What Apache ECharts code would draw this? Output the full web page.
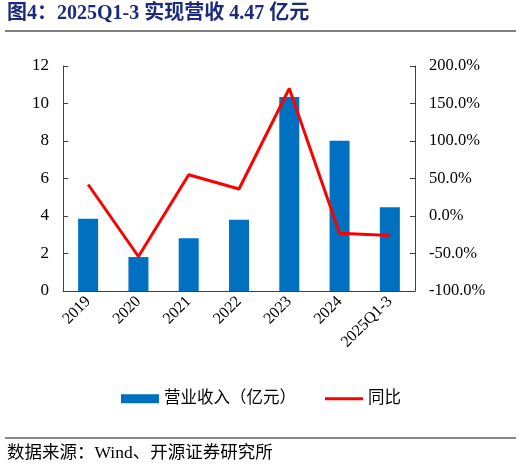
<!DOCTYPE html>
<html>
<head>
<meta charset="utf-8">
<script src="https://cdn.jsdelivr.net/npm/echarts@6/dist/echarts.min.js"></script>
<style>
  html, body { margin: 0; padding: 0; background: #fff; }
  #main { width: 522px; height: 467px; }
</style>
</head>
<body>
<div id="main"></div>
<script>
var categories = ['2019', '2020', '2021', '2022', '2023', '2024', '2025Q1-3'];
var revenue = [3.86, 1.81, 2.81, 3.80, 10.35, 8.02, 4.47];
var yoy = [42, -54, 55, 36, 170, -23, -26];
var leftTicks = { min: 0, max: 12, interval: 2 };
var rightTicks = { min: -100, max: 200, interval: 50 };

var serif = '"Liberation Serif", "Noto Sans CJK SC", serif';
var axisColor = '#404040';

var chart = echarts.init(document.getElementById('main'));

var option = {
    animation: false,
    backgroundColor: '#fff',
    textStyle: { fontFamily: serif },
    graphic: [
        {
            type: 'text', left: 7, top: 4,
            style: {
                text: '图4：2025Q1-3 实现营收 4.47 亿元',
                fill: '#1b2a7c', fontSize: 20, fontWeight: 'bold', fontFamily: serif
            }
        },
        {
            type: 'line', shape: { x1: 5, y1: 31, x2: 516, y2: 31 },
            style: { stroke: '#000', lineWidth: 1.2 }
        },
        {
            type: 'line', shape: { x1: 5, y1: 438, x2: 516, y2: 438 },
            style: { stroke: '#888', lineWidth: 2 }
        },
        {
            type: 'text', left: 7, top: 445,
            style: {
                text: '数据来源：Wind、开源证券研究所',
                fill: '#000', fontSize: 17.5, fontFamily: serif
            }
        }
    ],
    legend: {
        bottom: 55,
        left: 'center',
        itemGap: 29,
        itemWidth: 38,
        itemHeight: 9,
        textStyle: { fontSize: 16.5, color: '#000', fontFamily: serif },
        data: [
            { name: '营业收入（亿元）', icon: 'rect' },
            { name: '同比', icon: 'path://M0,0 L38,0 L38,3 L0,3 Z' }
        ]
    },
    grid: { left: 63, right: 107, top: 66, bottom: 176, containLabel: false },
    xAxis: {
        type: 'category',
        data: categories,
        boundaryGap: true,
        axisLine: { lineStyle: { color: axisColor, width: 1 } },
        axisTick: { inside: true, alignWithLabel: false, length: 5, lineStyle: { color: axisColor } },
        axisLabel: { rotate: 45, interval: 0, fontSize: 16, color: '#000', margin: 8, fontFamily: serif }
    },
    yAxis: [
        {
            type: 'value',
            min: leftTicks.min, max: leftTicks.max, interval: leftTicks.interval,
            splitLine: { show: false },
            axisLine: { show: true, lineStyle: { color: axisColor } },
            axisTick: { show: true, inside: true, length: 5, lineStyle: { color: axisColor } },
            axisLabel: { fontSize: 17, color: '#000', margin: 14, fontFamily: serif }
        },
        {
            type: 'value',
            min: rightTicks.min, max: rightTicks.max, interval: rightTicks.interval,
            splitLine: { show: false },
            axisLine: { show: true, lineStyle: { color: axisColor } },
            axisTick: { show: true, inside: true, length: 5, lineStyle: { color: axisColor } },
            axisLabel: {
                fontSize: 16.5, color: '#000', margin: 14, fontFamily: serif,
                formatter: function (v) { return v.toFixed(1) + '%'; }
            }
        }
    ],
    series: [
        {
            name: '营业收入（亿元）',
            type: 'bar',
            barWidth: 20,
            itemStyle: { color: '#0070c0' },
            data: revenue
        },
        {
            name: '同比',
            type: 'line',
            yAxisIndex: 1,
            symbol: 'none',
            lineStyle: { color: '#ff0000', width: 3 },
            itemStyle: { color: '#ff0000' },
            data: yoy
        }
    ]
};

chart.setOption(option);
</script>
</body>
</html>
